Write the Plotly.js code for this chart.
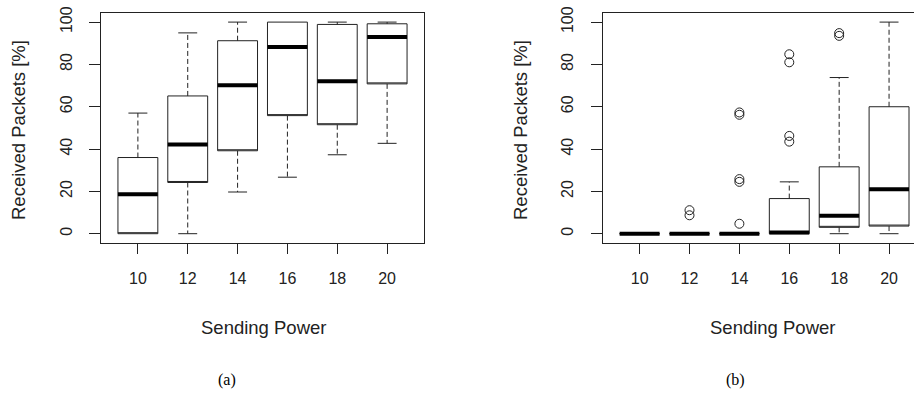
<!DOCTYPE html>
<html>
<head>
<meta charset="utf-8">
<script src="https://cdn.plot.ly/plotly-3.0.1.min.js"></script>
<style>html,body{margin:0;padding:0;background:#fff;}#chart{width:914px;height:411px;}</style>
</head>
<body>
<div id="chart"></div>
<script>
// Sending power categories
const power = [10, 12, 14, 16, 18, 20];

// Panel (a)
const a_lower  = [0, 0, 19.7, 26.7, 37.3, 42.7];
const a_q1     = [0, 24.2, 39.2, 55.8, 51.5, 70.8];
const a_median = [18.6, 42.2, 70.1, 88.2, 72.0, 93.0];
const a_q3     = [36.0, 65.1, 91.2, 100, 98.9, 99.2];
const a_upper  = [57.0, 94.9, 100, 100, 100, 100];

// Panel (b)
const b_lower  = [0, 0, 0, 0, 0, 0];
const b_q1     = [0, 0, 0, 0, 3.0, 3.6];
const b_median = [0, 0, 0, 0.6, 8.5, 21.0];
const b_q3     = [0, 0, 0, 16.6, 31.6, 60.0];
const b_upper  = [0, 0, 0, 24.5, 73.8, 100];
const b_outlier_x = [12, 12, 14, 14, 14, 14, 14, 16, 16, 16, 16, 18, 18];
const b_outlier_y = [11.1, 8.7, 4.7, 25.8, 24.5, 57.3, 56.2, 46.2, 43.5, 84.8, 81.0, 94.8, 93.5];

const BOXW = 1.6;     // box width in x units (R boxwex 0.8 * spacing 2)
const CAPW = 0.38;    // half-width of whisker caps
const MEDW = 0.8;     // half-width of median line
const INK = '#222';

function panelTraces(lower, q1, med, q3, upper, xa, ya) {
  const traces = [];
  // box bodies
  traces.push({
    type: 'box', x: power, q1: q1, median: q1, q3: q3,
    lowerfence: q1, upperfence: q3, width: BOXW,
    fillcolor: 'rgba(0,0,0,0)', line: {color: INK, width: 1},
    whiskerwidth: 0, boxpoints: false, hoverinfo: 'skip',
    xaxis: xa, yaxis: ya, showlegend: false
  });
  // dashed whiskers
  const wx = [], wy = [];
  power.forEach((p, i) => {
    if (upper[i] > q3[i]) { wx.push(p, p, null); wy.push(q3[i], upper[i], null); }
    if (lower[i] < q1[i]) { wx.push(p, p, null); wy.push(q1[i], lower[i], null); }
  });
  traces.push({type: 'scatter', mode: 'lines', x: wx, y: wy,
    line: {color: INK, width: 1, dash: '5px,3px'}, xaxis: xa, yaxis: ya,
    showlegend: false, hoverinfo: 'skip'});
  // caps
  const cx = [], cy = [];
  power.forEach((p, i) => {
    if (upper[i] > q3[i]) { cx.push(p - CAPW, p + CAPW, null); cy.push(upper[i], upper[i], null); }
    if (lower[i] < q1[i]) { cx.push(p - CAPW, p + CAPW, null); cy.push(lower[i], lower[i], null); }
  });
  traces.push({type: 'scatter', mode: 'lines', x: cx, y: cy,
    line: {color: INK, width: 1}, xaxis: xa, yaxis: ya,
    showlegend: false, hoverinfo: 'skip'});
  // medians (thick)
  const mx = [], my = [];
  power.forEach((p, i) => { mx.push(p - MEDW, p + MEDW, null); my.push(med[i], med[i], null); });
  traces.push({type: 'scatter', mode: 'lines', x: mx, y: my,
    line: {color: '#000', width: 4}, xaxis: xa, yaxis: ya,
    showlegend: false, hoverinfo: 'skip'});
  return traces;
}

const data = []
  .concat(panelTraces(a_lower, a_q1, a_median, a_q3, a_upper, 'x', 'y'))
  .concat(panelTraces(b_lower, b_q1, b_median, b_q3, b_upper, 'x2', 'y2'));

data.push({type: 'scatter', mode: 'markers', x: b_outlier_x, y: b_outlier_y,
  marker: {symbol: 'circle-open', size: 9, color: INK, line: {width: 1, color: INK}},
  xaxis: 'x2', yaxis: 'y2', showlegend: false, hoverinfo: 'skip'});

const tickFont = {family: 'Liberation Sans, Arial, sans-serif', size: 16, color: '#222'};

function xAxis(domain, range, anchor, mirror) {
  return {domain: domain, range: range, anchor: anchor,
    tickmode: 'array', tickvals: power, ticktext: power.map(String),
    ticks: 'outside', ticklen: 10, tickwidth: 1, tickcolor: INK,
    showline: true, linecolor: INK, linewidth: 1, mirror: mirror,
    showgrid: false, zeroline: false, tickfont: tickFont, ticklabelstandoff: 11};
}
function yAxis(anchor) {
  return {domain: [1 - 243/411, 1 - 13/411], range: [-4.4, 104.3], anchor: anchor,
    tickvals: [0, 20, 40, 60, 80, 100], tickangle: -90,
    ticks: 'outside', ticklen: 11, tickwidth: 1, tickcolor: INK,
    showline: true, linecolor: INK, linewidth: 1,
    showgrid: false, zeroline: false, tickfont: tickFont, ticklabelstandoff: 11};
}

const xa = xAxis([101/914, 424/914], [8.52, 21.48], 'y', true);
const xb = xAxis([602.7/914, 1], [8.52, 21.0], 'y2', true);
const ya = yAxis('x'); ya.mirror = true;
const yb = yAxis('x2');

const titleFont = {family: 'Liberation Sans, Arial, sans-serif', size: 18.5, color: '#222'};
const capFont = {family: 'Liberation Serif, Times New Roman, serif', size: 16, color: '#000'};

const layout = {
  width: 914, height: 411,
  margin: {l: 0, r: 0, t: 0, b: 0},
  paper_bgcolor: '#fff', plot_bgcolor: '#fff',
  showlegend: false,
  xaxis: xa, yaxis: ya, xaxis2: xb, yaxis2: yb,
  annotations: [
    {text: 'Received Packets [%]', textangle: -90, xref: 'paper', yref: 'paper',
     x: 18/914, y: 1 - 130/411, xanchor: 'center', yanchor: 'middle', showarrow: false, font: titleFont},
    {text: 'Received Packets [%]', textangle: -90, xref: 'paper', yref: 'paper',
     x: 520/914, y: 1 - 130/411, xanchor: 'center', yanchor: 'middle', showarrow: false, font: titleFont},
    {text: 'Sending Power', xref: 'paper', yref: 'paper',
     x: 263/914, y: 1 - 327/411, xanchor: 'center', yanchor: 'middle', showarrow: false, font: titleFont},
    {text: 'Sending Power', xref: 'paper', yref: 'paper',
     x: 772/914, y: 1 - 327/411, xanchor: 'center', yanchor: 'middle', showarrow: false, font: titleFont},
    {text: '(a)', xref: 'paper', yref: 'paper',
     x: 227/914, y: 1 - 380/411, xanchor: 'center', yanchor: 'middle', showarrow: false, font: capFont},
    {text: '(b)', xref: 'paper', yref: 'paper',
     x: 735/914, y: 1 - 380/411, xanchor: 'center', yanchor: 'middle', showarrow: false, font: capFont}
  ]
};

Plotly.newPlot('chart', data, layout, {staticPlot: true, displayModeBar: false});
</script>
</body>
</html>
